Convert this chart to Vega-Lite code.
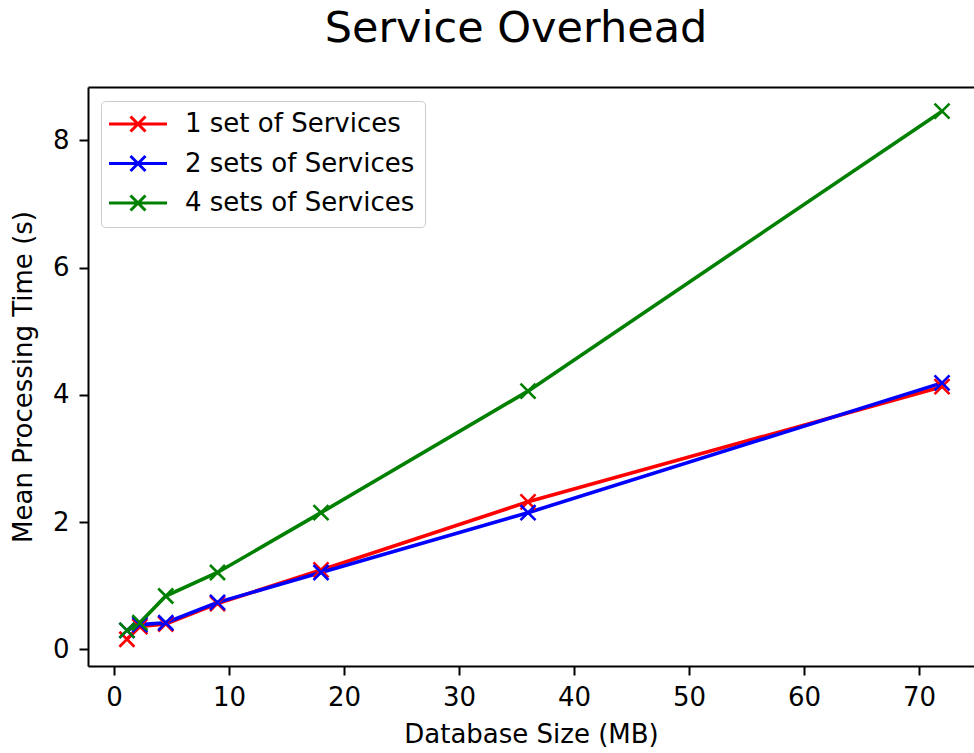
{
  "$schema": "https://vega.github.io/schema/vega-lite/v6.json",
  "autosize": {"type": "none"},
  "width": 886,
  "height": 579,
  "padding": {"left": 88, "top": 87, "right": 0, "bottom": 87},
  "background": "white",
  "title": {
    "text": "Service Overhead",
    "fontSize": 43,
    "font": "DejaVu Sans",
    "fontWeight": "normal",
    "color": "black",
    "anchor": "middle",
    "frame": "group",
    "baseline": "alphabetic",
    "offset": 2,
    "dx": -15
  },
  "config": {
    "font": "DejaVu Sans",
    "view": {"stroke": null},
    "axis": {
      "grid": false,
      "labelFont": "DejaVu Sans",
      "titleFont": "DejaVu Sans",
      "labelFontSize": 26,
      "titleFontSize": 26,
      "titleFontWeight": "normal",
      "labelColor": "black",
      "titleColor": "black",
      "domainColor": "black",
      "domainWidth": 2,
      "tickColor": "black",
      "tickWidth": 2,
      "tickSize": 9
    }
  },
  "data": {
    "values": [
      {"series": "1 set of Services", "size": 1.125, "time": 0.16},
      {"series": "1 set of Services", "size": 2.25, "time": 0.36},
      {"series": "1 set of Services", "size": 4.5, "time": 0.40},
      {"series": "1 set of Services", "size": 9, "time": 0.72},
      {"series": "1 set of Services", "size": 18, "time": 1.25},
      {"series": "1 set of Services", "size": 36, "time": 2.32},
      {"series": "1 set of Services", "size": 72, "time": 4.13},
      {"series": "2 sets of Services", "size": 1.125, "time": 0.30},
      {"series": "2 sets of Services", "size": 2.25, "time": 0.39},
      {"series": "2 sets of Services", "size": 4.5, "time": 0.42},
      {"series": "2 sets of Services", "size": 9, "time": 0.74},
      {"series": "2 sets of Services", "size": 18, "time": 1.21},
      {"series": "2 sets of Services", "size": 36, "time": 2.15},
      {"series": "2 sets of Services", "size": 72, "time": 4.19},
      {"series": "4 sets of Services", "size": 1.125, "time": 0.30},
      {"series": "4 sets of Services", "size": 2.25, "time": 0.42},
      {"series": "4 sets of Services", "size": 4.5, "time": 0.84},
      {"series": "4 sets of Services", "size": 9, "time": 1.21},
      {"series": "4 sets of Services", "size": 18, "time": 2.15},
      {"series": "4 sets of Services", "size": 36, "time": 4.06},
      {"series": "4 sets of Services", "size": 72, "time": 8.46}
    ]
  },
  "encoding": {
    "y": {
      "field": "time",
      "type": "quantitative",
      "scale": {"domain": [-0.26, 8.84], "nice": false, "zero": false},
      "axis": {
        "title": "Mean Processing Time (s)",
        "values": [0, 2, 4, 6, 8],
        "labelPadding": 10,
        "titlePadding": 16
      }
    },
    "color": {
      "field": "series",
      "type": "nominal",
      "scale": {
        "domain": ["1 set of Services", "2 sets of Services", "4 sets of Services"],
        "range": ["#ff0000", "#0000ff", "#008000"]
      },
      "legend": {
        "title": null,
        "orient": "none",
        "legendX": 13,
        "legendY": 14,
        "symbolType": "M-3.87,0H3.87M-1,-1L1,1M-1,1L1,-1",
        "symbolSize": 225,
        "symbolStrokeWidth": 3,
        "symbolFillColor": "transparent",
        "symbolOffset": 14,
        "labelOffset": 34,
        "labelLimit": 500,
        "labelFontSize": 26,
        "labelFont": "DejaVu Sans",
        "labelColor": "black",
        "rowPadding": 11.5,
        "padding": 10,
        "strokeColor": "#cccccc",
        "fillColor": "white",
        "cornerRadius": 4
      }
    }
  },
  "layer": [
    {
      "mark": {"type": "line", "strokeWidth": 3.6},
      "encoding": {
        "x": {
          "field": "size",
          "type": "quantitative",
          "scale": {"domain": [-2.26, 74.78], "nice": false, "zero": false},
          "axis": {
            "title": "Database Size (MB)",
            "values": [0, 10, 20, 30, 40, 50, 60, 70],
            "labelPadding": 9,
            "titlePadding": 11
          }
        }
      }
    },
    {
      "mark": {"type": "point", "shape": "M-1,-1L1,1M-1,1L1,-1", "filled": false, "size": 225, "strokeWidth": 2.6, "opacity": 1},
      "encoding": {
        "x": {
          "field": "size",
          "type": "quantitative",
          "axis": {
            "orient": "top",
            "labels": false,
            "ticks": false,
            "title": null,
            "domain": true
          }
        }
      }
    }
  ],
  "resolve": {"axis": {"x": "independent"}}
}
